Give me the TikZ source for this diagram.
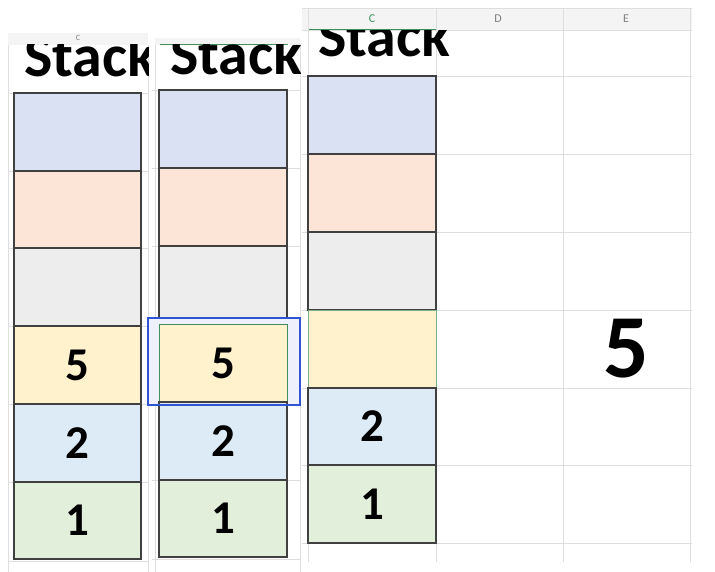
\documentclass[tikz,border=0pt]{standalone}
\usepackage{fontspec}
\newfontfamily\carl{Carlito}
\definecolor{cBlueGray}{HTML}{D9E1F2}
\definecolor{cPeach}{HTML}{FCE4D6}
\definecolor{cGray}{HTML}{EDEDED}
\definecolor{cYellow}{HTML}{FFF2CC}
\definecolor{cLBlue}{HTML}{DDEBF7}
\definecolor{cGreen}{HTML}{E2EFDA}
\definecolor{gridc}{HTML}{DEDEDE}
\definecolor{hdrc}{HTML}{F4F4F4}
\definecolor{selgreen}{HTML}{3F8F5A}
\definecolor{selblue}{HTML}{2F55D4}
\begin{document}
\begin{tikzpicture}[x=1pt,y=-1pt,
  cell/.style={draw=black!75,line width=1.1pt,inner sep=0pt,font=\carl\bfseries\fontsize{47}{47}\selectfont},
  grid/.style={draw=gridc,line width=0.8pt},
  hdr/.style={font=\carl\fontsize{12}{12}\selectfont,text=black!50},
  stacktxt/.style={font=\carl\bfseries\fontsize{60}{60}\selectfont,anchor=base west,inner sep=0pt,text height=26pt,text depth=0pt}]
\useasboundingbox[fill=white] (0,0) rectangle (715,572);
% ---------- panel 1 ----------
\fill[hdrc] (8,33) rectangle (148,45);
\node[hdr,font=\carl\fontsize{8}{8}\selectfont] (h1c) at (78,37.5) {C};
\foreach \y in {93,171,248,326,404,482,561} \draw[grid] (8,\y) -- (148,\y);
\draw[grid] (8,45) -- (8,572);
\draw[grid] (148,45) -- (148,572);
\begin{scope}
\clip (8,45) rectangle (148,93);
\node[stacktxt] (s1) at (24,77) {Stack};
\end{scope}
\node[cell,fill=cBlueGray,minimum width=127pt,minimum height=78pt] (a6) at (77.5,132) {};
\node[cell,fill=cPeach,minimum width=127pt,minimum height=77pt] (a5) at (77.5,209.5) {};
\node[cell,fill=cGray,minimum width=127pt,minimum height=78pt] (a4) at (77.5,287) {};
\node[cell,fill=cYellow,minimum width=127pt,minimum height=78pt] (a3) at (77.5,365) {5};
\node[cell,fill=cLBlue,minimum width=127pt,minimum height=78pt] (a2) at (77.5,443) {2};
\node[cell,fill=cGreen,minimum width=127pt,minimum height=77pt] (a1) at (77.5,520.5) {1};
% ---------- panel 2 ----------
\fill[hdrc] (155,38) rectangle (300,45);
\draw[selgreen,line width=1pt] (160,45) -- (288,45);
\foreach \y in {90,168,246,324,402,480,559} \draw[grid] (152,\y) -- (300,\y);
\draw[grid] (155,45) -- (155,572);
\draw[grid] (300,45) -- (300,572);
\begin{scope}
\clip (155,45) rectangle (300,90);
\node[stacktxt] (s2) at (170,75) {Stack};
\end{scope}
\node[cell,fill=cBlueGray,minimum width=128pt,minimum height=78pt] (b6) at (223,129) {};
\node[cell,fill=cPeach,minimum width=128pt,minimum height=78pt] (b5) at (223,207) {};
\node[cell,fill=cGray,minimum width=128pt,minimum height=78pt] (b4) at (223,285) {};
\fill[selblue!8] (148,318) rectangle (300,405);
\node[cell,fill=cYellow,draw=selgreen,line width=0.9pt,minimum width=128pt,minimum height=78pt] (b3) at (223,363) {5};
\node[cell,fill=cLBlue,minimum width=128pt,minimum height=78pt] (b2) at (223,441) {2};
\node[cell,fill=cGreen,minimum width=128pt,minimum height=77pt] (b1) at (223,518.5) {1};
\draw[selblue,line width=1.4pt] (148,318) rectangle (300,405);
% ---------- panel 3 ----------
\fill[hdrc] (302,8) rectangle (692,30);
\draw[grid] (302,8) -- (692,8);
\draw[grid] (302,30) -- (692,30);
\draw[selgreen,line width=1pt] (308,30) -- (436,30);
\node[hdr,text=selgreen] (hc) at (372,19) {C};
\node[hdr] (hd) at (498,19) {D};
\node[hdr] (he) at (626,19) {E};
\foreach \x in {308,436,563,690} \draw[grid] (\x,8) -- (\x,562);
\foreach \y in {76,154,232,310,388,465,543} \draw[grid] (302,\y) -- (692,\y);
\begin{scope}
\clip (308,31) rectangle (690,76);
\node[stacktxt] (s3) at (318,57) {Stack};
\end{scope}
\node[cell,fill=cBlueGray,minimum width=128pt,minimum height=78pt] (c6) at (372,115) {};
\node[cell,fill=cPeach,minimum width=128pt,minimum height=78pt] (c5) at (372,193) {};
\node[cell,fill=cGray,minimum width=128pt,minimum height=78pt] (c4) at (372,271) {};
\node[cell,fill=cYellow,draw=selgreen!70,line width=0.7pt,minimum width=128pt,minimum height=78pt] (c3) at (372,349) {};
\node[cell,fill=cLBlue,minimum width=128pt,minimum height=77pt] (c2) at (372,426.5) {2};
\node[cell,fill=cGreen,minimum width=128pt,minimum height=78pt] (c1) at (372,504) {1};
\node[font=\carl\bfseries\fontsize{90}{90}\selectfont,inner sep=0pt] (e5) at (626,349) {5};
\end{tikzpicture}
\end{document}
